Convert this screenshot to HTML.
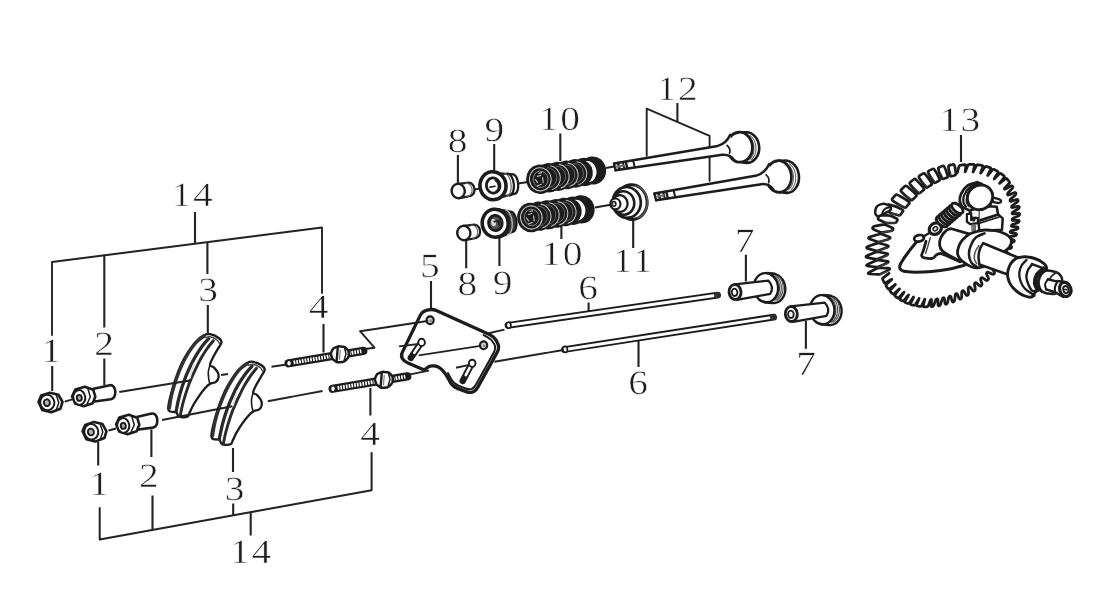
<!DOCTYPE html>
<html><head><meta charset="utf-8"><title>Valve train exploded view</title>
<style>
html,body{margin:0;padding:0;background:#fff;}
body{width:1093px;height:600px;overflow:hidden;font-family:"Liberation Serif",serif;}
svg{display:block;}
</style></head><body>
<svg width="1093" height="600" viewBox="0 0 1093 600">
<defs><filter id="soft" x="0" y="0" width="1093" height="600" filterUnits="userSpaceOnUse"><feGaussianBlur stdDeviation="0.38"/></filter></defs>
<rect width="1093" height="600" fill="#ffffff"/>
<g filter="url(#soft)">
<g font-family="'Liberation Serif', serif" fill="#1e1e1e" stroke="#ffffff" stroke-width="0.55" opacity="0.999" text-rendering="geometricPrecision">
<text transform="translate(193.0 206.4) scale(1.16 1)" font-size="34.0" text-anchor="middle" letter-spacing="1.5">14</text>
<line x1="195.0" y1="212.0" x2="195.0" y2="243.0" stroke="#222222" stroke-width="2.10" stroke-linecap="butt"/>
<path d="M52.0 335.0 L52.0 262.0 L322.0 227.5 L322.0 293.0" fill="none" stroke="#222222" stroke-width="1.90" stroke-linejoin="round" stroke-linecap="round" />
<line x1="104.3" y1="255.5" x2="104.3" y2="327.5" stroke="#222222" stroke-width="2.10" stroke-linecap="butt"/>
<line x1="207.4" y1="242.0" x2="207.4" y2="274.0" stroke="#222222" stroke-width="2.10" stroke-linecap="butt"/>
<line x1="207.8" y1="305.0" x2="207.8" y2="333.0" stroke="#222222" stroke-width="2.10" stroke-linecap="butt"/>
<text transform="translate(51.0 361.6) scale(1.16 1)" font-size="34.0" text-anchor="middle">1</text>
<line x1="52.2" y1="366.0" x2="52.2" y2="391.0" stroke="#222222" stroke-width="2.10" stroke-linecap="butt"/>
<text transform="translate(104.2 354.9) scale(1.16 1)" font-size="34.0" text-anchor="middle">2</text>
<line x1="104.3" y1="358.5" x2="104.3" y2="385.0" stroke="#222222" stroke-width="2.10" stroke-linecap="butt"/>
<text transform="translate(208.2 301.2) scale(1.16 1)" font-size="34.0" text-anchor="middle">3</text>
<text transform="translate(318.7 317.7) scale(1.16 1)" font-size="34.0" text-anchor="middle">4</text>
<line x1="323.5" y1="324.0" x2="323.5" y2="352.5" stroke="#222222" stroke-width="2.10" stroke-linecap="butt"/>
<text transform="translate(251.5 562.9) scale(1.16 1)" font-size="34.0" text-anchor="middle" letter-spacing="1.5">14</text>
<line x1="250.7" y1="512.5" x2="250.7" y2="535.5" stroke="#222222" stroke-width="2.10" stroke-linecap="butt"/>
<path d="M99.7 508.0 L99.7 539.6 L371.6 490.3 L371.6 453.0" fill="none" stroke="#222222" stroke-width="2.00" stroke-linejoin="round" stroke-linecap="round" />
<line x1="152.5" y1="495.5" x2="152.5" y2="530.5" stroke="#222222" stroke-width="2.10" stroke-linecap="butt"/>
<line x1="233.2" y1="503.5" x2="233.2" y2="515.5" stroke="#222222" stroke-width="2.10" stroke-linecap="butt"/>
<text transform="translate(99.2 495.1) scale(1.16 1)" font-size="34.0" text-anchor="middle">1</text>
<line x1="98.2" y1="442.0" x2="98.2" y2="465.5" stroke="#222222" stroke-width="2.10" stroke-linecap="butt"/>
<text transform="translate(148.8 486.9) scale(1.16 1)" font-size="34.0" text-anchor="middle">2</text>
<line x1="151.4" y1="429.5" x2="151.4" y2="457.0" stroke="#222222" stroke-width="2.10" stroke-linecap="butt"/>
<text transform="translate(234.6 500.0) scale(1.16 1)" font-size="34.0" text-anchor="middle">3</text>
<line x1="233.0" y1="448.0" x2="233.0" y2="472.0" stroke="#222222" stroke-width="2.10" stroke-linecap="butt"/>
<text transform="translate(370.2 444.8) scale(1.16 1)" font-size="34.0" text-anchor="middle">4</text>
<line x1="370.4" y1="388.0" x2="370.4" y2="415.5" stroke="#222222" stroke-width="2.10" stroke-linecap="butt"/>
<text transform="translate(429.8 277.2) scale(1.16 1)" font-size="34.0" text-anchor="middle">5</text>
<line x1="431.0" y1="281.0" x2="431.0" y2="308.0" stroke="#222222" stroke-width="2.10" stroke-linecap="butt"/>
<text transform="translate(588.0 298.9) scale(1.16 1)" font-size="34.0" text-anchor="middle">6</text>
<line x1="588.6" y1="302.5" x2="588.6" y2="311.0" stroke="#222222" stroke-width="2.10" stroke-linecap="butt"/>
<text transform="translate(638.0 394.4) scale(1.16 1)" font-size="34.0" text-anchor="middle">6</text>
<line x1="638.5" y1="341.0" x2="638.5" y2="367.0" stroke="#222222" stroke-width="2.10" stroke-linecap="butt"/>
<text transform="translate(744.7 252.3) scale(1.16 1)" font-size="34.0" text-anchor="middle">7</text>
<line x1="745.9" y1="254.8" x2="745.9" y2="281.5" stroke="#222222" stroke-width="2.10" stroke-linecap="butt"/>
<text transform="translate(806.1 375.1) scale(1.16 1)" font-size="34.0" text-anchor="middle">7</text>
<line x1="805.9" y1="321.0" x2="805.9" y2="348.8" stroke="#222222" stroke-width="2.10" stroke-linecap="butt"/>
<text transform="translate(457.6 152.4) scale(1.16 1)" font-size="34.0" text-anchor="middle">8</text>
<line x1="457.9" y1="155.0" x2="457.9" y2="184.0" stroke="#222222" stroke-width="2.10" stroke-linecap="butt"/>
<text transform="translate(467.4 294.8) scale(1.16 1)" font-size="34.0" text-anchor="middle">8</text>
<line x1="466.2" y1="240.0" x2="466.2" y2="268.3" stroke="#222222" stroke-width="2.10" stroke-linecap="butt"/>
<text transform="translate(494.3 141.0) scale(1.16 1)" font-size="34.0" text-anchor="middle">9</text>
<line x1="494.2" y1="144.0" x2="494.2" y2="172.0" stroke="#222222" stroke-width="2.10" stroke-linecap="butt"/>
<text transform="translate(502.7 293.5) scale(1.16 1)" font-size="34.0" text-anchor="middle">9</text>
<line x1="499.4" y1="237.5" x2="499.4" y2="266.0" stroke="#222222" stroke-width="2.10" stroke-linecap="butt"/>
<text transform="translate(560.3 130.2) scale(1.16 1)" font-size="34.0" text-anchor="middle" letter-spacing="1.5">10</text>
<line x1="560.3" y1="133.5" x2="560.3" y2="161.0" stroke="#222222" stroke-width="2.10" stroke-linecap="butt"/>
<text transform="translate(562.7 264.5) scale(1.16 1)" font-size="34.0" text-anchor="middle" letter-spacing="1.5">10</text>
<line x1="561.4" y1="225.5" x2="561.4" y2="239.0" stroke="#222222" stroke-width="2.10" stroke-linecap="butt"/>
<text transform="translate(633.4 272.1) scale(1.16 1)" font-size="34.0" text-anchor="middle" letter-spacing="1.5">11</text>
<line x1="633.2" y1="221.0" x2="633.2" y2="248.0" stroke="#222222" stroke-width="2.10" stroke-linecap="butt"/>
<text transform="translate(678.1 99.6) scale(1.16 1)" font-size="34.0" text-anchor="middle" letter-spacing="1.5">12</text>
<line x1="677.4" y1="103.0" x2="677.4" y2="121.5" stroke="#222222" stroke-width="2.10" stroke-linecap="butt"/>
<path d="M646.7 155.8 L646.7 108.7 L709.6 135.9 L709.6 180.7" fill="none" stroke="#222222" stroke-width="1.90" stroke-linejoin="round" stroke-linecap="round" />
<text transform="translate(960.6 131.2) scale(1.16 1)" font-size="34.0" text-anchor="middle" letter-spacing="1.5">13</text>
<line x1="961.0" y1="135.0" x2="961.0" y2="162.0" stroke="#222222" stroke-width="2.10" stroke-linecap="butt"/>
</g>
<line x1="64.7" y1="401.7" x2="72.4" y2="399.3" stroke="#222222" stroke-width="1.90" stroke-linecap="butt"/>
<line x1="221.0" y1="375.0" x2="228.0" y2="374.0" stroke="#222222" stroke-width="1.90" stroke-linecap="butt"/>
<line x1="271.5" y1="366.8" x2="285.0" y2="364.8" stroke="#222222" stroke-width="1.90" stroke-linecap="butt"/>
<line x1="108.5" y1="430.5" x2="116.0" y2="428.5" stroke="#222222" stroke-width="1.90" stroke-linecap="butt"/>
<line x1="267.8" y1="401.2" x2="322.5" y2="391.0" stroke="#222222" stroke-width="1.90" stroke-linecap="butt"/>
<line x1="488.4" y1="333.2" x2="504.5" y2="329.6" stroke="#222222" stroke-width="1.90" stroke-linecap="butt"/>
<line x1="494.4" y1="361.7" x2="562.0" y2="350.2" stroke="#222222" stroke-width="1.90" stroke-linecap="butt"/>
<line x1="472.0" y1="190.0" x2="488.0" y2="187.0" stroke="#222222" stroke-width="1.90" stroke-linecap="butt"/>
<line x1="518.0" y1="183.5" x2="528.0" y2="182.0" stroke="#222222" stroke-width="1.90" stroke-linecap="butt"/>
<line x1="606.0" y1="168.0" x2="614.0" y2="166.5" stroke="#222222" stroke-width="1.90" stroke-linecap="butt"/>
<line x1="595.0" y1="207.5" x2="612.0" y2="204.5" stroke="#222222" stroke-width="1.90" stroke-linecap="butt"/>
<path d="M38.5 402.0 L41.2 395.6 L50.0 392.7 L58.5 394.8 L62.5 402.0 L60.4 408.7 L51.3 412.3 L42.3 410.0 Z" fill="#fff" stroke="#1c1c1c" stroke-width="2.60" stroke-linejoin="round" stroke-linecap="round" />
<path d="M56.1 394.5 L58.8 402.8 L56.1 410.5" fill="none" stroke="#1c1c1c" stroke-width="1.50" stroke-linejoin="round" stroke-linecap="round" />
<ellipse cx="47.3" cy="402.5" rx="7.0" ry="7.8" fill="#fff" stroke="#1c1c1c" stroke-width="2.00" transform="rotate(-10.0 47.3 402.5)"/>
<ellipse cx="46.9" cy="402.7" rx="3.0" ry="3.4" fill="#b5b5b5" stroke="#1c1c1c" stroke-width="1.90" transform="rotate(-10.0 46.9 402.7)"/>
<path d="M82.5 431.3 L85.2 424.9 L94.0 422.0 L102.5 424.1 L106.5 431.3 L104.4 438.0 L95.3 441.6 L86.3 439.3 Z" fill="#fff" stroke="#1c1c1c" stroke-width="2.60" stroke-linejoin="round" stroke-linecap="round" />
<path d="M100.1 423.8 L102.8 432.1 L100.1 439.8" fill="none" stroke="#1c1c1c" stroke-width="1.50" stroke-linejoin="round" stroke-linecap="round" />
<ellipse cx="91.3" cy="431.8" rx="7.0" ry="7.8" fill="#fff" stroke="#1c1c1c" stroke-width="2.00" transform="rotate(-10.0 91.3 431.8)"/>
<ellipse cx="90.9" cy="432.0" rx="3.0" ry="3.4" fill="#b5b5b5" stroke="#1c1c1c" stroke-width="1.90" transform="rotate(-10.0 90.9 432.0)"/>
<path d="M92.7 388.9 L109.7 385.2 C113.3 384.8 115.3 388.1 115.3 392.1 C115.3 396.1 114.2 398.7 110.8 399.3 L92.7 401.7 Z" fill="#fff" stroke="#1c1c1c" stroke-width="2.60" stroke-linejoin="round" stroke-linecap="round" />
<path d="M72.1 396.4 L75.3 389.5 L84.9 386.8 L93.2 389.7 L95.3 396.7 L92.7 403.3 L83.6 406.3 L75.3 403.6 Z" fill="#fff" stroke="#1c1c1c" stroke-width="2.60" stroke-linejoin="round" stroke-linecap="round" />
<path d="M87.6 387.9 L90.3 396.7 L86.5 405.2" fill="none" stroke="#1c1c1c" stroke-width="1.50" stroke-linejoin="round" stroke-linecap="round" />
<ellipse cx="79.3" cy="397.5" rx="6.0" ry="7.4" fill="#fff" stroke="#1c1c1c" stroke-width="2.00" transform="rotate(-8.0 79.3 397.5)"/>
<ellipse cx="79.3" cy="397.9" rx="2.5" ry="3.0" fill="#a8a8a8" stroke="#1c1c1c" stroke-width="1.90" transform="rotate(-8.0 79.3 397.9)"/>
<path d="M136.7 416.9 L151.7 413.6 C155.3 413.2 157.3 416.4 157.3 420.4 C157.3 424.4 156.2 427.0 152.8 427.6 L136.7 429.7 Z" fill="#fff" stroke="#1c1c1c" stroke-width="2.60" stroke-linejoin="round" stroke-linecap="round" />
<path d="M116.1 424.4 L119.3 417.5 L128.9 414.8 L137.2 417.7 L139.3 424.7 L136.7 431.3 L127.6 434.3 L119.3 431.6 Z" fill="#fff" stroke="#1c1c1c" stroke-width="2.60" stroke-linejoin="round" stroke-linecap="round" />
<path d="M131.6 415.9 L134.3 424.7 L130.5 433.2" fill="none" stroke="#1c1c1c" stroke-width="1.50" stroke-linejoin="round" stroke-linecap="round" />
<ellipse cx="123.3" cy="425.5" rx="6.0" ry="7.4" fill="#fff" stroke="#1c1c1c" stroke-width="2.00" transform="rotate(-8.0 123.3 425.5)"/>
<ellipse cx="123.3" cy="425.9" rx="2.5" ry="3.0" fill="#a8a8a8" stroke="#1c1c1c" stroke-width="1.90" transform="rotate(-8.0 123.3 425.9)"/>
<path d="M203.7 335.3 C206.0 334.1 207.6 333.8 210.0 334.2 C212.4 334.6 216.4 336.3 218.3 337.7 C220.2 339.0 221.6 340.4 221.5 342.3 C221.4 344.2 219.1 346.6 217.7 349.2 C216.2 351.7 214.3 354.9 213.0 357.5 C211.7 360.1 209.9 363.4 210.0 365.0 C210.1 366.6 212.4 366.1 213.7 367.3 C214.9 368.6 216.9 370.6 217.7 372.3 C218.5 374.0 218.8 375.9 218.5 377.5 C218.2 379.1 217.4 380.8 216.0 381.8 C214.6 382.9 211.8 382.8 210.0 383.8 C208.2 384.9 206.8 386.3 205.0 388.3 C203.2 390.3 201.1 393.1 199.2 395.8 C197.2 398.6 195.0 402.1 193.3 405.0 C191.7 407.9 190.3 411.4 189.3 413.3 C188.4 415.2 188.9 415.8 187.7 416.5 C186.4 417.2 183.6 417.4 182.0 417.3 C180.4 417.2 179.3 416.9 178.3 416.0 C177.3 415.1 177.3 412.9 176.0 412.2 C174.7 411.4 171.6 412.1 170.3 411.5 C169.0 410.9 168.1 411.1 168.2 408.3 C168.2 405.6 169.4 400.0 170.7 395.0 C171.9 390.0 173.8 383.6 175.7 378.3 C177.5 373.1 179.6 367.8 181.7 363.3 C183.8 358.9 186.0 355.3 188.3 351.7 C190.7 348.1 193.3 344.4 195.8 341.7 C198.4 338.9 201.3 336.6 203.7 335.3 Z" fill="#fff" stroke="#1c1c1c" stroke-width="2.30" stroke-linejoin="round" stroke-linecap="round" />
<path d="M204.3 336.0 C203.0 337.0 199.0 339.5 196.5 342.2 C194.0 344.8 191.5 348.4 189.2 352.0 C186.9 355.6 184.8 359.2 182.7 363.7 C180.6 368.1 178.5 373.3 176.7 378.5 C174.9 383.7 173.0 390.0 171.8 395.0 C170.6 400.0 169.9 406.1 169.5 408.3" fill="none" stroke="#333" stroke-width="3.00" stroke-linejoin="round" stroke-linecap="round" />
<path d="M208.7 338.7 C207.6 339.9 204.6 343.0 202.5 345.8 C200.4 348.7 198.0 352.2 195.8 355.8 C193.7 359.4 191.6 363.3 189.7 367.5 C187.7 371.7 185.8 376.2 184.2 380.8 C182.5 385.4 180.9 390.4 179.7 395.0 C178.4 399.6 177.2 405.6 176.7 408.3 C176.1 411.1 176.2 411.1 176.2 411.7" fill="none" stroke="#2a2a2a" stroke-width="3.30" stroke-linejoin="round" stroke-linecap="round" />
<path d="M213.3 340.7 C212.3 341.9 209.4 345.4 207.3 348.3 C205.3 351.3 203.1 354.6 201.0 358.3 C198.9 362.1 196.8 366.7 194.8 370.8 C192.9 375.0 191.0 379.0 189.3 383.3 C187.7 387.6 186.1 392.4 184.8 396.7 C183.5 401.0 182.2 405.9 181.5 409.2 C180.8 412.4 180.5 414.9 180.3 416.0" fill="none" stroke="#2a2a2a" stroke-width="2.90" stroke-linejoin="round" stroke-linecap="round" />
<path d="M205.0 337.7 C205.8 337.5 208.1 336.3 210.0 336.7 C211.9 337.0 215.1 338.6 216.7 339.7 C218.2 340.8 218.9 342.7 219.3 343.3" fill="none" stroke="#444" stroke-width="1.40" stroke-linejoin="round" stroke-linecap="round" />
<path d="M210.0 365.0 C209.7 366.2 208.5 369.6 208.3 372.0 C208.1 374.4 208.6 377.4 208.8 379.3 C209.1 381.3 209.8 383.1 210.0 383.8" fill="none" stroke="#1c1c1c" stroke-width="1.60" stroke-linejoin="round" stroke-linecap="round" />
<path d="M193.8 363.7 C193.5 364.9 192.3 368.4 191.7 370.8 C191.0 373.2 190.3 376.8 190.0 378.0" fill="none" stroke="#ddd" stroke-width="1.50" stroke-linejoin="round" stroke-linecap="round" />
<path d="M246.9 362.9 C249.2 361.7 250.8 361.4 253.2 361.8 C255.6 362.2 259.6 363.9 261.5 365.3 C263.5 366.6 264.8 368.0 264.7 369.9 C264.6 371.9 262.3 374.2 260.9 376.8 C259.4 379.3 257.5 382.5 256.2 385.1 C254.9 387.7 253.1 391.0 253.2 392.6 C253.3 394.2 255.6 393.7 256.9 394.9 C258.1 396.2 260.1 398.2 260.9 399.9 C261.7 401.6 262.0 403.5 261.7 405.1 C261.4 406.7 260.6 408.4 259.2 409.4 C257.8 410.5 255.0 410.4 253.2 411.4 C251.4 412.5 250.0 413.9 248.2 415.9 C246.4 417.9 244.3 420.7 242.4 423.4 C240.4 426.2 238.2 429.7 236.5 432.6 C234.9 435.5 233.5 439.0 232.5 440.9 C231.6 442.9 232.1 443.4 230.9 444.1 C229.6 444.8 226.8 445.0 225.2 444.9 C223.6 444.9 222.5 444.5 221.5 443.6 C220.5 442.7 220.5 440.5 219.2 439.8 C217.9 439.0 214.8 439.7 213.5 439.1 C212.2 438.5 211.3 438.7 211.4 435.9 C211.4 433.2 212.6 427.6 213.9 422.6 C215.1 417.6 217.0 411.2 218.9 405.9 C220.7 400.7 222.8 395.4 224.9 390.9 C227.0 386.5 229.2 382.9 231.5 379.3 C233.9 375.7 236.5 372.0 239.0 369.3 C241.6 366.5 244.5 364.2 246.9 362.9 Z" fill="#fff" stroke="#1c1c1c" stroke-width="2.30" stroke-linejoin="round" stroke-linecap="round" />
<path d="M247.5 363.6 C246.2 364.6 242.2 367.1 239.7 369.8 C237.2 372.4 234.7 376.0 232.4 379.6 C230.1 383.2 228.0 386.9 225.9 391.3 C223.8 395.7 221.7 400.9 219.9 406.1 C218.1 411.3 216.2 417.6 215.0 422.6 C213.8 427.6 213.1 433.7 212.7 435.9" fill="none" stroke="#333" stroke-width="3.00" stroke-linejoin="round" stroke-linecap="round" />
<path d="M251.9 366.3 C250.8 367.5 247.8 370.6 245.7 373.4 C243.6 376.3 241.2 379.8 239.0 383.4 C236.9 387.0 234.8 390.9 232.9 395.1 C230.9 399.3 229.0 403.9 227.4 408.4 C225.7 413.0 224.1 418.0 222.9 422.6 C221.6 427.2 220.5 433.2 219.9 435.9 C219.3 438.7 219.5 438.7 219.4 439.3" fill="none" stroke="#2a2a2a" stroke-width="3.30" stroke-linejoin="round" stroke-linecap="round" />
<path d="M256.5 368.3 C255.5 369.5 252.6 373.0 250.5 375.9 C248.5 378.9 246.3 382.2 244.2 385.9 C242.1 389.7 240.0 394.3 238.0 398.4 C236.1 402.6 234.2 406.6 232.5 410.9 C230.9 415.2 229.3 420.0 228.0 424.3 C226.7 428.6 225.4 433.5 224.7 436.8 C223.9 440.0 223.7 442.5 223.5 443.6" fill="none" stroke="#2a2a2a" stroke-width="2.90" stroke-linejoin="round" stroke-linecap="round" />
<path d="M248.2 365.3 C249.0 365.1 251.3 363.9 253.2 364.3 C255.1 364.6 258.3 366.2 259.9 367.3 C261.4 368.4 262.1 370.3 262.5 370.9" fill="none" stroke="#444" stroke-width="1.40" stroke-linejoin="round" stroke-linecap="round" />
<path d="M253.2 392.6 C252.9 393.8 251.7 397.2 251.5 399.6 C251.3 402.0 251.8 405.0 252.0 406.9 C252.3 408.9 253.0 410.7 253.2 411.4" fill="none" stroke="#1c1c1c" stroke-width="1.60" stroke-linejoin="round" stroke-linecap="round" />
<path d="M237.0 391.3 C236.7 392.5 235.5 396.0 234.9 398.4 C234.2 400.8 233.5 404.4 233.2 405.6" fill="none" stroke="#ddd" stroke-width="1.50" stroke-linejoin="round" stroke-linecap="round" />
<line x1="288.6" y1="363.3" x2="363.3" y2="350.9" stroke="#1c1c1c" stroke-width="8.2" stroke-linecap="round"/>
<line x1="293.6" y1="362.5" x2="361.3" y2="351.2" stroke="#fff" stroke-width="3.8" stroke-dasharray="1.7 1.1"/>
<ellipse cx="289.0" cy="363.3" rx="1.7" ry="2.3" fill="#fff" stroke="none" stroke-width="0.00"/>
<path d="M331.2 352.4 L332.3 350.0 Q333.0 348.5 334.5 347.9 L336.9 346.9 Q338.4 346.2 340.0 346.4 L343.4 346.8 Q345.0 347.0 346.0 348.2 L347.9 350.3 Q348.9 351.5 348.8 353.1 L348.6 355.9 Q348.4 357.5 347.3 358.7 L345.5 360.5 Q344.4 361.7 342.8 361.9 L339.1 362.3 Q337.5 362.4 336.1 361.6 L334.1 360.3 Q332.7 359.4 332.1 358.0 L331.2 355.4 Q330.6 353.9 331.2 352.4 Z" fill="#fff" stroke="#1c1c1c" stroke-width="2.50" stroke-linejoin="round" stroke-linecap="round" />
<path d="M337.8 347.0 L336.6 361.7" fill="none" stroke="#1c1c1c" stroke-width="2.40" stroke-linejoin="round" stroke-linecap="round" />
<path d="M344.5 347.9 L346.0 353.9 L344.1 360.5" fill="none" stroke="#1c1c1c" stroke-width="1.50" stroke-linejoin="round" stroke-linecap="round" />
<path d="M340.2 350.0 L339.6 359.3" fill="none" stroke="#666" stroke-width="1.00" stroke-linejoin="round" stroke-linecap="round" />
<line x1="332.6" y1="388.8" x2="407.3" y2="376.4" stroke="#1c1c1c" stroke-width="8.2" stroke-linecap="round"/>
<line x1="337.6" y1="388.0" x2="405.3" y2="376.7" stroke="#fff" stroke-width="3.8" stroke-dasharray="1.7 1.1"/>
<ellipse cx="333.0" cy="388.8" rx="1.7" ry="2.3" fill="#fff" stroke="none" stroke-width="0.00"/>
<path d="M375.2 377.9 L376.3 375.5 Q377.0 374.0 378.5 373.4 L380.9 372.4 Q382.4 371.7 384.0 371.9 L387.4 372.3 Q389.0 372.5 390.0 373.7 L391.9 375.8 Q392.9 377.0 392.8 378.6 L392.6 381.4 Q392.4 383.0 391.3 384.2 L389.5 386.0 Q388.4 387.2 386.8 387.4 L383.1 387.8 Q381.5 387.9 380.1 387.1 L378.1 385.8 Q376.7 384.9 376.1 383.5 L375.2 380.9 Q374.6 379.4 375.2 377.9 Z" fill="#fff" stroke="#1c1c1c" stroke-width="2.50" stroke-linejoin="round" stroke-linecap="round" />
<path d="M381.8 372.5 L380.6 387.2" fill="none" stroke="#1c1c1c" stroke-width="2.40" stroke-linejoin="round" stroke-linecap="round" />
<path d="M388.5 373.4 L390.0 379.4 L388.1 386.0" fill="none" stroke="#1c1c1c" stroke-width="1.50" stroke-linejoin="round" stroke-linecap="round" />
<path d="M384.2 375.5 L383.6 384.8" fill="none" stroke="#666" stroke-width="1.00" stroke-linejoin="round" stroke-linecap="round" />
<path d="M427.1 310.2 L428.8 309.8 Q432.7 308.9 436.3 310.5 L488.9 334.3 Q494.4 336.7 497.1 342.1 L497.5 343.0 Q499.8 347.5 497.4 351.9 L478.1 386.6 Q475.7 391.0 472.7 392.0 L472.7 392.0 Q469.7 393.1 466.0 391.6 L457.0 388.1 Q452.3 386.3 450.0 381.8 L447.2 376.7 Q445.3 373.1 442.5 370.3 L441.3 369.1 Q437.7 365.5 433.3 365.8 L431.9 365.9 Q428.9 366.2 426.7 368.1 L425.6 369.0 Q424.4 370.0 423.1 369.4 L407.9 363.0 Q404.2 361.4 402.4 358.6 L402.4 358.6 Q400.7 355.7 402.4 352.1 L420.0 315.9 Q422.2 311.4 427.1 310.2 Z" fill="#fff" stroke="#1c1c1c" stroke-width="3.30" stroke-linejoin="round" stroke-linecap="round" />
<path d="M483.6 335.1 L487.8 337.4 Q491.9 339.6 494.1 343.7 L494.1 343.7 Q496.3 347.8 493.9 352.2 L476.6 383.6 Q474.1 388.0 471.8 389.0 L471.8 389.0 Q469.4 389.9 465.7 388.5 L458.5 385.7 Q453.9 383.9 451.4 379.5 L447.9 373.1" fill="none" stroke="#1c1c1c" stroke-width="2.00" stroke-linejoin="round" stroke-linecap="round" />
<ellipse cx="430.1" cy="320.3" rx="3.6" ry="3.9" fill="#d0d0d0" stroke="#1c1c1c" stroke-width="2.20"/>
<ellipse cx="430.7" cy="320.8" rx="1.3" ry="1.5" fill="#8a8a8a" stroke="none" stroke-width="0.00"/>
<ellipse cx="483.6" cy="345.3" rx="3.6" ry="3.9" fill="#d0d0d0" stroke="#1c1c1c" stroke-width="2.20"/>
<ellipse cx="484.2" cy="345.8" rx="1.3" ry="1.5" fill="#8a8a8a" stroke="none" stroke-width="0.00"/>
<line x1="421.3" y1="342.4" x2="410.8" y2="357.9" stroke="#1c1c1c" stroke-width="6.4" stroke-linecap="round"/>
<line x1="421.3" y1="342.4" x2="414.3" y2="352.8" stroke="#fff" stroke-width="2.6" stroke-linecap="round"/>
<ellipse cx="421.6" cy="342.4" rx="3.3" ry="3.6" fill="#fff" stroke="#1c1c1c" stroke-width="1.90"/>
<ellipse cx="411.3" cy="357.3" rx="2.8" ry="2.3" fill="#1c1c1c" stroke="none" stroke-width="0.00" transform="rotate(-30.0 411.3 357.3)"/>
<line x1="471.9" y1="363.3" x2="462.7" y2="381.0" stroke="#1c1c1c" stroke-width="6.4" stroke-linecap="round"/>
<line x1="471.9" y1="363.3" x2="465.8" y2="375.1" stroke="#fff" stroke-width="2.6" stroke-linecap="round"/>
<ellipse cx="472.2" cy="363.3" rx="3.3" ry="3.6" fill="#fff" stroke="#1c1c1c" stroke-width="1.90"/>
<ellipse cx="463.2" cy="380.4" rx="2.8" ry="2.3" fill="#1c1c1c" stroke="none" stroke-width="0.00" transform="rotate(-30.0 463.2 380.4)"/>
<path d="M458.7 183.8 L468.8 182.6 A6.4 7.0 -8 0 1 470.6 196.0 L459.7 198.2" fill="#fff" stroke="#1c1c1c" stroke-width="2.20" stroke-linejoin="round" stroke-linecap="round" />
<ellipse cx="458.2" cy="191.0" rx="6.6" ry="7.2" fill="#fff" stroke="#1c1c1c" stroke-width="2.40" transform="rotate(-8.0 458.2 191.0)"/>
<path d="M465.6 183.2 A5.5 6.4 -8 0 1 467.2 196.4" fill="none" stroke="#666" stroke-width="1.20" stroke-linejoin="round" stroke-linecap="round" />
<path d="M464.3 225.8 L474.4 224.6 A6.4 7.0 -8 0 1 476.2 238.0 L465.3 240.2" fill="#fff" stroke="#1c1c1c" stroke-width="2.20" stroke-linejoin="round" stroke-linecap="round" />
<ellipse cx="463.8" cy="233.0" rx="6.6" ry="7.2" fill="#fff" stroke="#1c1c1c" stroke-width="2.40" transform="rotate(-8.0 463.8 233.0)"/>
<path d="M471.2 225.2 A5.5 6.4 -8 0 1 472.8 238.4" fill="none" stroke="#666" stroke-width="1.20" stroke-linejoin="round" stroke-linecap="round" />
<path d="M495.0 173.1 L513.5 174.3 A5.2 10.2 -6 0 1 515.4 193.7 L497.0 198.2 Z" fill="#fff" stroke="#1c1c1c" stroke-width="2.30" stroke-linejoin="round" stroke-linecap="round" />
<path d="M507.5 173.7 A5.2 10.4 -6 0 1 509.4 195.3" fill="none" stroke="#1c1c1c" stroke-width="2.20" stroke-linejoin="round" stroke-linecap="round" />
<path d="M504.5 173.5 A5.2 10.4 -6 0 1 506.4 196.1" fill="none" stroke="#666" stroke-width="1.20" stroke-linejoin="round" stroke-linecap="round" />
<ellipse cx="493.0" cy="185.7" rx="13.0" ry="14.0" fill="#fff" stroke="#1c1c1c" stroke-width="3.60" transform="rotate(-8.0 493.0 185.7)"/>
<ellipse cx="493.2" cy="185.5" rx="6.8" ry="7.6" fill="#fff" stroke="#1c1c1c" stroke-width="2.80" transform="rotate(-8.0 493.2 185.5)"/>
<path d="M495.4 180.3 A4.5 6 -8 0 1 496.4 191.3" fill="none" stroke="#1c1c1c" stroke-width="2.00" stroke-linejoin="round" stroke-linecap="round" />
<path d="M490.0 187.1 l5 -0.8" fill="none" stroke="#1c1c1c" stroke-width="1.60" stroke-linejoin="round" stroke-linecap="round" />
<path d="M497.2 209.2 L510.7 211.6 A4.5 9.6 -6 0 1 512.8 231.8 L499.2 237.7 Z" fill="#3a3a3a" stroke="#1c1c1c" stroke-width="2.20" stroke-linejoin="round" stroke-linecap="round" />
<path d="M505.7 210.2 A5 11 -6 0 1 507.6 234.6" fill="none" stroke="#bbb" stroke-width="1.30" stroke-linejoin="round" stroke-linecap="round" />
<ellipse cx="495.2" cy="223.2" rx="13.0" ry="14.0" fill="#fff" stroke="#1c1c1c" stroke-width="3.60" transform="rotate(-8.0 495.2 223.2)"/>
<ellipse cx="495.4" cy="223.0" rx="6.8" ry="7.6" fill="#555" stroke="#1c1c1c" stroke-width="2.80" transform="rotate(-8.0 495.4 223.0)"/>
<ellipse cx="493.6" cy="222.6" rx="2.4" ry="3.6" fill="#ddd" stroke="none" stroke-width="0.00" transform="rotate(-8.0 493.6 222.6)"/>
<path d="M494.2 221.6 l4.6 -0.6 l0.4 4" fill="none" stroke="#1c1c1c" stroke-width="1.80" stroke-linejoin="round" stroke-linecap="round" />
<ellipse cx="593.0" cy="170.5" rx="13.1" ry="14.1" fill="#1c1c1c" stroke="none" stroke-width="0.00" transform="rotate(-8.0 593.0 170.5)"/>
<ellipse cx="584.2" cy="172.0" rx="13.2" ry="14.2" fill="#1c1c1c" stroke="none" stroke-width="0.00" transform="rotate(-8.0 584.2 172.0)"/>
<ellipse cx="575.3" cy="173.4" rx="13.3" ry="14.3" fill="#1c1c1c" stroke="none" stroke-width="0.00" transform="rotate(-8.0 575.3 173.4)"/>
<ellipse cx="566.5" cy="174.9" rx="13.5" ry="14.4" fill="#1c1c1c" stroke="none" stroke-width="0.00" transform="rotate(-8.0 566.5 174.9)"/>
<ellipse cx="557.7" cy="176.4" rx="13.6" ry="14.6" fill="#1c1c1c" stroke="none" stroke-width="0.00" transform="rotate(-8.0 557.7 176.4)"/>
<ellipse cx="548.8" cy="177.8" rx="13.7" ry="14.7" fill="#1c1c1c" stroke="none" stroke-width="0.00" transform="rotate(-8.0 548.8 177.8)"/>
<ellipse cx="540.0" cy="179.3" rx="13.8" ry="14.8" fill="#1c1c1c" stroke="none" stroke-width="0.00" transform="rotate(-8.0 540.0 179.3)"/>
<g clip-path="none">
<ellipse cx="587.6" cy="171.6" rx="9.0" ry="10.6" fill="#fff" stroke="none" stroke-width="0.00" transform="rotate(-8.0 587.6 171.6)"/>
<ellipse cx="582.6" cy="172.3" rx="10.2" ry="12.0" fill="#1c1c1c" stroke="none" stroke-width="0.00" transform="rotate(-8.0 582.6 172.3)"/>
</g>
<path d="M550.4 165.8 A11.1 12.1 -8 0 1 552.2 189.5" fill="none" stroke="#bcbcbc" stroke-width="1.10" stroke-linejoin="round" stroke-linecap="round" />
<path d="M547.4 167.6 A9.1 10.1 -8 0 1 549.0 187.7" fill="none" stroke="#777" stroke-width="0.80" stroke-linejoin="round" stroke-linecap="round" />
<path d="M559.3 164.4 A11.0 12.0 -8 0 1 561.1 187.9" fill="none" stroke="#bcbcbc" stroke-width="1.10" stroke-linejoin="round" stroke-linecap="round" />
<path d="M556.3 166.2 A9.0 10.0 -8 0 1 557.9 186.1" fill="none" stroke="#777" stroke-width="0.80" stroke-linejoin="round" stroke-linecap="round" />
<path d="M568.1 163.1 A10.9 11.8 -8 0 1 569.9 186.3" fill="none" stroke="#bcbcbc" stroke-width="1.10" stroke-linejoin="round" stroke-linecap="round" />
<path d="M565.1 164.9 A8.9 9.8 -8 0 1 566.7 184.5" fill="none" stroke="#777" stroke-width="0.80" stroke-linejoin="round" stroke-linecap="round" />
<path d="M576.9 161.7 A10.7 11.7 -8 0 1 578.7 184.7" fill="none" stroke="#bcbcbc" stroke-width="1.10" stroke-linejoin="round" stroke-linecap="round" />
<path d="M573.9 163.5 A8.7 9.7 -8 0 1 575.5 182.9" fill="none" stroke="#777" stroke-width="0.80" stroke-linejoin="round" stroke-linecap="round" />
<ellipse cx="540.3" cy="179.3" rx="10.8" ry="11.6" fill="none" stroke="#c4c4c4" stroke-width="1.10" transform="rotate(-8.0 540.3 179.3)"/>
<ellipse cx="540.6" cy="179.3" rx="7.4" ry="8.2" fill="none" stroke="#8d8d8d" stroke-width="0.90" transform="rotate(-8.0 540.6 179.3)"/>
<path d="M537.4 176.3 l3.4 -1 M542.6 177.7 l0.6 5.0 M541.4 184.3 l-3.8 1.4 M535.4 179.7 l2.2 3 M539.0 173.3 l2.6 -0.6" fill="none" stroke="#b9b9b9" stroke-width="1.20" stroke-linejoin="round" stroke-linecap="round" />
<ellipse cx="581.5" cy="209.3" rx="13.1" ry="14.1" fill="#1c1c1c" stroke="none" stroke-width="0.00" transform="rotate(-8.0 581.5 209.3)"/>
<ellipse cx="573.1" cy="210.7" rx="13.2" ry="14.2" fill="#1c1c1c" stroke="none" stroke-width="0.00" transform="rotate(-8.0 573.1 210.7)"/>
<ellipse cx="564.7" cy="212.0" rx="13.3" ry="14.3" fill="#1c1c1c" stroke="none" stroke-width="0.00" transform="rotate(-8.0 564.7 212.0)"/>
<ellipse cx="556.2" cy="213.4" rx="13.5" ry="14.4" fill="#1c1c1c" stroke="none" stroke-width="0.00" transform="rotate(-8.0 556.2 213.4)"/>
<ellipse cx="547.8" cy="214.8" rx="13.6" ry="14.6" fill="#1c1c1c" stroke="none" stroke-width="0.00" transform="rotate(-8.0 547.8 214.8)"/>
<ellipse cx="539.4" cy="216.1" rx="13.7" ry="14.7" fill="#1c1c1c" stroke="none" stroke-width="0.00" transform="rotate(-8.0 539.4 216.1)"/>
<ellipse cx="531.0" cy="217.5" rx="13.8" ry="14.8" fill="#1c1c1c" stroke="none" stroke-width="0.00" transform="rotate(-8.0 531.0 217.5)"/>
<g clip-path="none">
<ellipse cx="576.5" cy="210.3" rx="9.0" ry="10.6" fill="#fff" stroke="none" stroke-width="0.00" transform="rotate(-8.0 576.5 210.3)"/>
<ellipse cx="571.5" cy="211.0" rx="10.2" ry="12.0" fill="#1c1c1c" stroke="none" stroke-width="0.00" transform="rotate(-8.0 571.5 211.0)"/>
</g>
<path d="M541.0 204.1 A11.1 12.1 -8 0 1 542.8 227.8" fill="none" stroke="#bcbcbc" stroke-width="1.10" stroke-linejoin="round" stroke-linecap="round" />
<path d="M538.0 205.9 A9.1 10.1 -8 0 1 539.6 226.0" fill="none" stroke="#777" stroke-width="0.80" stroke-linejoin="round" stroke-linecap="round" />
<path d="M549.4 202.8 A11.0 12.0 -8 0 1 551.2 226.3" fill="none" stroke="#bcbcbc" stroke-width="1.10" stroke-linejoin="round" stroke-linecap="round" />
<path d="M546.4 204.6 A9.0 10.0 -8 0 1 548.0 224.5" fill="none" stroke="#777" stroke-width="0.80" stroke-linejoin="round" stroke-linecap="round" />
<path d="M557.9 201.6 A10.9 11.8 -8 0 1 559.6 224.8" fill="none" stroke="#bcbcbc" stroke-width="1.10" stroke-linejoin="round" stroke-linecap="round" />
<path d="M554.9 203.4 A8.9 9.8 -8 0 1 556.5 223.0" fill="none" stroke="#777" stroke-width="0.80" stroke-linejoin="round" stroke-linecap="round" />
<path d="M566.3 200.3 A10.7 11.7 -8 0 1 568.1 223.3" fill="none" stroke="#bcbcbc" stroke-width="1.10" stroke-linejoin="round" stroke-linecap="round" />
<path d="M563.3 202.1 A8.7 9.7 -8 0 1 564.9 221.5" fill="none" stroke="#777" stroke-width="0.80" stroke-linejoin="round" stroke-linecap="round" />
<ellipse cx="531.3" cy="217.5" rx="10.8" ry="11.6" fill="none" stroke="#c4c4c4" stroke-width="1.10" transform="rotate(-8.0 531.3 217.5)"/>
<ellipse cx="531.6" cy="217.5" rx="7.4" ry="8.2" fill="none" stroke="#8d8d8d" stroke-width="0.90" transform="rotate(-8.0 531.6 217.5)"/>
<path d="M528.4 214.5 l3.4 -1 M533.6 215.9 l0.6 5.0 M532.4 222.5 l-3.8 1.4 M526.4 217.9 l2.2 3 M530.0 211.5 l2.6 -0.6" fill="none" stroke="#b9b9b9" stroke-width="1.20" stroke-linejoin="round" stroke-linecap="round" />
<ellipse cx="631.9" cy="202.1" rx="15.2" ry="17.4" fill="#fff" stroke="#1c1c1c" stroke-width="3.00" transform="rotate(-6.0 631.9 202.1)"/>
<path d="M635.3 185.7 A14 16.5 -6 0 1 638.1 217.7" fill="none" stroke="#555" stroke-width="1.60" stroke-linejoin="round" stroke-linecap="round" />
<ellipse cx="626.8" cy="202.4" rx="14.0" ry="15.4" fill="#fff" stroke="#1c1c1c" stroke-width="2.70" transform="rotate(-6.0 626.8 202.4)"/>
<ellipse cx="623.5" cy="203.0" rx="10.8" ry="11.8" fill="#fff" stroke="#1c1c1c" stroke-width="2.50" transform="rotate(-6.0 623.5 203.0)"/>
<ellipse cx="619.8" cy="203.6" rx="7.8" ry="8.4" fill="#fff" stroke="#1c1c1c" stroke-width="2.30" transform="rotate(-6.0 619.8 203.6)"/>
<ellipse cx="615.4" cy="203.9" rx="5.0" ry="5.4" fill="#fff" stroke="#1c1c1c" stroke-width="2.20" transform="rotate(-6.0 615.4 203.9)"/>
<ellipse cx="613.9" cy="203.9" rx="2.0" ry="2.3" fill="#ccc" stroke="#1c1c1c" stroke-width="1.50"/>
<ellipse cx="746.6" cy="147.6" rx="12.6" ry="15.3" fill="#fff" stroke="#1c1c1c" stroke-width="2.60" transform="rotate(-4.0 746.6 147.6)"/>
<path d="M739.8 132.2 L746.6 132.2 M740.8 162.2 L747.6 162.4" fill="none" stroke="#1c1c1c" stroke-width="2.20" stroke-linejoin="round" stroke-linecap="round" />
<rect x="739.8" y="133.2" width="6.8" height="28.0" fill="#fff" transform="rotate(-4 739.8 147.2)"/>
<path d="M747.9 135.4 A12.6 15.0 -4 0 1 749.4 159.8" fill="none" stroke="#666" stroke-width="1.10" stroke-linejoin="round" stroke-linecap="round" />
<path d="M749.9 135.4 A12.6 15.0 -4 0 1 751.4 159.8" fill="none" stroke="#666" stroke-width="1.10" stroke-linejoin="round" stroke-linecap="round" />
<ellipse cx="739.8" cy="147.2" rx="12.6" ry="15.0" fill="#fff" stroke="#1c1c1c" stroke-width="2.80" transform="rotate(-4.0 739.8 147.2)"/>
<path d="M614.0 163.6 L717.8 145.9 Q726.1 143.8 730.2 134.8 L734.4 160.4 Q730.3 154.1 722.3 154.7 L615.6 170.3 Z" fill="#fff" stroke="none" stroke-width="0.00" stroke-linejoin="round" stroke-linecap="round" />
<path d="M614.0 163.6 L717.8 145.9 Q726.1 143.8 730.2 134.8" fill="none" stroke="#1c1c1c" stroke-width="2.50" stroke-linejoin="round" stroke-linecap="round" />
<path d="M615.6 170.3 L722.3 154.7 Q730.3 154.1 734.4 160.4" fill="none" stroke="#1c1c1c" stroke-width="2.50" stroke-linejoin="round" stroke-linecap="round" />
<path d="M727.1 145.5 Q731.1 148.9 729.5 153.4" fill="none" stroke="#1c1c1c" stroke-width="1.70" stroke-linejoin="round" stroke-linecap="round" />
<path d="M614.0 163.6 L615.6 170.3" fill="none" stroke="#1c1c1c" stroke-width="2.40" stroke-linejoin="round" stroke-linecap="round" />
<path d="M618.1 163.0 L619.6 169.6" fill="none" stroke="#1c1c1c" stroke-width="2.60" stroke-linejoin="round" stroke-linecap="round" />
<path d="M622.9 162.2 L624.3 168.9" fill="none" stroke="#1c1c1c" stroke-width="2.00" stroke-linejoin="round" stroke-linecap="round" />
<path d="M625.8 161.8 L627.3 168.4" fill="none" stroke="#1c1c1c" stroke-width="2.40" stroke-linejoin="round" stroke-linecap="round" />
<path d="M633.2 160.6 L634.7 167.3" fill="none" stroke="#1c1c1c" stroke-width="2.00" stroke-linejoin="round" stroke-linecap="round" />
<path d="M616.5 166.7 L622.9 165.7" fill="none" stroke="#777" stroke-width="2.20" stroke-linejoin="round" stroke-linecap="round" />
<ellipse cx="786.4" cy="176.9" rx="12.6" ry="16.1" fill="#fff" stroke="#1c1c1c" stroke-width="2.60" transform="rotate(-4.0 786.4 176.9)"/>
<path d="M778.8 160.7 L786.4 160.7 M779.8 192.3 L787.4 192.5" fill="none" stroke="#1c1c1c" stroke-width="2.20" stroke-linejoin="round" stroke-linecap="round" />
<rect x="778.8" y="161.7" width="7.6" height="29.6" fill="#fff" transform="rotate(-4 778.8 176.5)"/>
<path d="M787.2 163.9 A12.6 15.8 -4 0 1 788.7 189.9" fill="none" stroke="#666" stroke-width="1.10" stroke-linejoin="round" stroke-linecap="round" />
<path d="M789.5 163.9 A12.6 15.8 -4 0 1 791.0 189.9" fill="none" stroke="#666" stroke-width="1.10" stroke-linejoin="round" stroke-linecap="round" />
<ellipse cx="778.8" cy="176.5" rx="12.6" ry="15.8" fill="#fff" stroke="#1c1c1c" stroke-width="2.80" transform="rotate(-4.0 778.8 176.5)"/>
<path d="M654.4 193.6 L756.8 175.4 Q765.1 173.2 769.2 164.1 L773.4 189.7 Q769.3 183.4 761.3 184.2 L656.1 200.3 Z" fill="#fff" stroke="none" stroke-width="0.00" stroke-linejoin="round" stroke-linecap="round" />
<path d="M654.4 193.6 L756.8 175.4 Q765.1 173.2 769.2 164.1" fill="none" stroke="#1c1c1c" stroke-width="2.50" stroke-linejoin="round" stroke-linecap="round" />
<path d="M656.1 200.3 L761.3 184.2 Q769.3 183.4 773.4 189.7" fill="none" stroke="#1c1c1c" stroke-width="2.50" stroke-linejoin="round" stroke-linecap="round" />
<path d="M766.1 174.9 Q770.1 178.2 768.6 182.8" fill="none" stroke="#1c1c1c" stroke-width="1.70" stroke-linejoin="round" stroke-linecap="round" />
<path d="M654.4 193.6 L656.1 200.3" fill="none" stroke="#1c1c1c" stroke-width="2.40" stroke-linejoin="round" stroke-linecap="round" />
<path d="M658.6 193.0 L660.1 199.6" fill="none" stroke="#1c1c1c" stroke-width="2.60" stroke-linejoin="round" stroke-linecap="round" />
<path d="M663.3 192.2 L664.8 198.8" fill="none" stroke="#1c1c1c" stroke-width="2.00" stroke-linejoin="round" stroke-linecap="round" />
<path d="M666.3 191.7 L667.8 198.3" fill="none" stroke="#1c1c1c" stroke-width="2.40" stroke-linejoin="round" stroke-linecap="round" />
<path d="M673.7 190.5 L675.2 197.1" fill="none" stroke="#1c1c1c" stroke-width="2.00" stroke-linejoin="round" stroke-linecap="round" />
<path d="M657.0 196.7 L663.4 195.6" fill="none" stroke="#777" stroke-width="2.20" stroke-linejoin="round" stroke-linecap="round" />
<line x1="508.0" y1="325.3" x2="717.6" y2="295.1" stroke="#1c1c1c" stroke-width="6.8" stroke-linecap="round"/>
<line x1="508.5" y1="325.3" x2="713.1" y2="295.8" stroke="#fff" stroke-width="2.9" stroke-linecap="round"/>
<ellipse cx="717.0" cy="295.1" rx="2.6" ry="3.0" fill="#333" stroke="none" stroke-width="0.00"/>
<ellipse cx="508.6" cy="325.2" rx="2.3" ry="3.0" fill="#fff" stroke="#1c1c1c" stroke-width="1.70" transform="rotate(-8.0 508.6 325.2)"/>
<line x1="564.5" y1="349.5" x2="773.6" y2="317.2" stroke="#1c1c1c" stroke-width="6.8" stroke-linecap="round"/>
<line x1="565.0" y1="349.5" x2="769.1" y2="317.9" stroke="#fff" stroke-width="2.9" stroke-linecap="round"/>
<ellipse cx="773.0" cy="317.2" rx="2.6" ry="3.0" fill="#333" stroke="none" stroke-width="0.00"/>
<ellipse cx="565.1" cy="349.4" rx="2.3" ry="3.0" fill="#fff" stroke="#1c1c1c" stroke-width="1.70" transform="rotate(-8.0 565.1 349.4)"/>
<ellipse cx="773.1" cy="288.5" rx="12.2" ry="14.6" fill="#fff" stroke="#1c1c1c" stroke-width="2.40" transform="rotate(-6.0 773.1 288.5)"/>
<rect x="765.9" y="274.1" width="7.2" height="27.2" fill="#fff" transform="rotate(-6 765.9 287.7)"/>
<path d="M767.1 273.0 l7.4 0.6 M764.5 302.2 l7.2 0.9" fill="none" stroke="#1c1c1c" stroke-width="2.40" stroke-linejoin="round" stroke-linecap="round" />
<path d="M774.6 275.9 A12.2 14.6 -6 0 1 773.2 300.3" fill="none" stroke="#555" stroke-width="1.20" stroke-linejoin="round" stroke-linecap="round" />
<path d="M776.4 275.9 A12.2 14.6 -6 0 1 775.0 300.3" fill="none" stroke="#555" stroke-width="1.20" stroke-linejoin="round" stroke-linecap="round" />
<path d="M778.2 275.9 A12.2 14.6 -6 0 1 776.8 300.3" fill="none" stroke="#555" stroke-width="1.20" stroke-linejoin="round" stroke-linecap="round" />
<ellipse cx="765.9" cy="287.7" rx="12.2" ry="14.6" fill="#fff" stroke="#1c1c1c" stroke-width="2.40" transform="rotate(-6.0 765.9 287.7)"/>
<path d="M734.6 284.4 L768.3 280.6 Q774.4 286.9 770.3 293.8 L736.8 299.8 Z" fill="#fff" stroke="#1c1c1c" stroke-width="2.20" stroke-linejoin="round" stroke-linecap="round" />
<ellipse cx="735.0" cy="292.0" rx="6.0" ry="7.5" fill="#fff" stroke="#1c1c1c" stroke-width="2.80" transform="rotate(-6.0 735.0 292.0)"/>
<ellipse cx="734.6" cy="292.3" rx="2.8" ry="3.7" fill="#fff" stroke="#1c1c1c" stroke-width="1.80" transform="rotate(-6.0 734.6 292.3)"/>
<ellipse cx="829.4" cy="310.5" rx="12.2" ry="14.6" fill="#fff" stroke="#1c1c1c" stroke-width="2.40" transform="rotate(-6.0 829.4 310.5)"/>
<rect x="822.2" y="296.1" width="7.2" height="27.2" fill="#fff" transform="rotate(-6 822.2 309.7)"/>
<path d="M823.4 295.0 l7.4 0.6 M820.8 324.2 l7.2 0.9" fill="none" stroke="#1c1c1c" stroke-width="2.40" stroke-linejoin="round" stroke-linecap="round" />
<path d="M830.9 297.9 A12.2 14.6 -6 0 1 829.5 322.3" fill="none" stroke="#555" stroke-width="1.20" stroke-linejoin="round" stroke-linecap="round" />
<path d="M832.7 297.9 A12.2 14.6 -6 0 1 831.3 322.3" fill="none" stroke="#555" stroke-width="1.20" stroke-linejoin="round" stroke-linecap="round" />
<path d="M834.5 297.9 A12.2 14.6 -6 0 1 833.1 322.3" fill="none" stroke="#555" stroke-width="1.20" stroke-linejoin="round" stroke-linecap="round" />
<ellipse cx="822.2" cy="309.7" rx="12.2" ry="14.6" fill="#fff" stroke="#1c1c1c" stroke-width="2.40" transform="rotate(-6.0 822.2 309.7)"/>
<path d="M790.9 306.4 L824.6 302.6 Q830.7 308.9 826.6 315.8 L793.1 321.8 Z" fill="#fff" stroke="#1c1c1c" stroke-width="2.20" stroke-linejoin="round" stroke-linecap="round" />
<ellipse cx="791.3" cy="314.0" rx="6.0" ry="7.5" fill="#fff" stroke="#1c1c1c" stroke-width="2.80" transform="rotate(-6.0 791.3 314.0)"/>
<ellipse cx="790.9" cy="314.3" rx="2.8" ry="3.7" fill="#fff" stroke="#1c1c1c" stroke-width="1.80" transform="rotate(-6.0 790.9 314.3)"/>
<path d="M957.2 172.8 L958.8 166.8 Q959.2 165.3 960.7 165.1 L964.5 164.6 Q966.0 164.5 965.9 166.0 L965.3 170.4 Q965.1 171.9 965.2 171.9 L965.2 171.9 Q965.3 171.9 965.8 170.5 L967.6 165.7 Q968.2 164.3 969.7 164.4 L973.4 164.4 Q974.9 164.4 974.5 165.9 L973.4 170.5 Q973.0 172.0 973.1 172.0 L973.1 172.0 Q973.2 172.0 973.8 170.6 L976.3 165.9 Q976.9 164.6 978.4 164.8 L981.9 165.4 Q983.4 165.6 982.8 167.0 L981.1 171.8 Q980.6 173.2 980.6 173.2 L980.6 173.2 Q980.7 173.2 981.5 171.9 L984.5 167.4 Q985.3 166.1 986.8 166.6 L989.9 167.6 Q991.3 168.1 990.7 169.4 L988.3 174.2 Q987.6 175.5 987.7 175.5 L987.7 175.5 Q987.8 175.6 988.7 174.4 L992.2 170.1 Q993.1 168.9 994.5 169.6 L997.2 171.1 Q998.6 171.8 997.8 173.1 L994.8 177.7 Q994.0 178.9 994.1 179.0 L994.1 179.0 Q994.1 179.0 995.2 178.0 L999.1 174.0 Q1000.2 172.9 1001.3 173.8 L1003.7 175.7 Q1004.8 176.6 1003.9 177.8 L1000.5 182.2 Q999.5 183.4 999.6 183.4 L999.6 183.4 Q999.6 183.5 1000.8 182.5 L1005.0 178.9 Q1006.2 178.0 1007.2 179.1 L1009.1 181.3 Q1010.0 182.4 1009.0 183.5 L1005.1 187.6 Q1004.1 188.6 1004.4 189.0 L1004.4 189.0 Q1004.6 189.4 1005.9 188.7 L1010.7 186.1 Q1012.1 185.4 1012.6 186.4 L1012.6 186.4 Q1013.2 187.4 1012.2 188.5 L1008.2 192.7 Q1007.2 193.8 1007.6 194.5 L1007.6 194.5 Q1008.0 195.3 1009.3 194.7 L1014.2 192.7 Q1015.5 192.1 1015.9 193.1 L1015.9 193.1 Q1016.3 194.2 1015.2 195.2 L1010.9 198.9 Q1009.8 199.9 1010.0 200.7 L1010.0 200.7 Q1010.3 201.5 1011.7 201.1 L1016.4 199.5 Q1017.9 199.1 1018.1 200.1 L1018.1 200.1 Q1018.4 201.2 1017.1 202.1 L1012.6 205.3 Q1011.4 206.2 1011.5 207.0 L1011.5 207.0 Q1011.6 207.8 1013.1 207.5 L1017.7 206.4 Q1019.2 206.1 1019.3 207.2 L1019.3 207.2 Q1019.4 208.2 1018.1 209.0 L1013.4 211.7 Q1012.1 212.5 1012.1 213.3 L1012.1 213.3 Q1012.2 214.1 1013.7 213.9 L1018.1 213.3 Q1019.6 213.1 1019.6 214.2 L1019.6 214.2 Q1019.6 215.2 1018.3 215.9 L1013.5 218.1 Q1012.1 218.8 1012.1 219.6 L1012.1 219.6 Q1012.0 220.4 1013.5 220.3 L1017.8 220.2 Q1019.3 220.1 1019.2 221.1 L1019.2 221.1 Q1019.1 222.2 1017.7 222.7 L1012.9 224.4 Q1011.5 225.0 1011.4 225.7 L1011.4 225.7 Q1011.3 226.5 1012.8 226.6 L1016.8 226.9 Q1018.3 227.0 1018.1 228.0 L1018.1 228.0 Q1017.9 229.0 1016.5 229.4 L1011.8 230.6 Q1010.4 231.0 1010.2 231.8 L1010.2 231.8 Q1010.0 232.6 1011.5 232.8 L1015.3 233.4 Q1016.7 233.7 1016.5 234.6 L1016.5 234.6 Q1016.2 235.6 1014.7 235.9 L1010.2 236.7 Q1008.7 236.9 1008.5 237.7 L1008.5 237.7 Q1008.2 238.4 1009.6 238.8 L1013.2 239.8 Q1014.6 240.2 1014.3 241.2 L1014.3 241.2 Q1013.9 242.1 1012.4 242.3 L1008.1 242.6 Q1006.6 242.7 1006.2 243.5 L1006.2 243.5 Q1005.9 244.2 1007.3 244.8 L1010.6 246.1 Q1012.0 246.7 1011.5 247.7 L1011.5 247.7 Q1011.0 248.7 1009.5 248.6 L1005.4 248.6 Q1003.9 248.6 1003.5 249.3 L1003.5 249.3 Q1003.1 250.1 1004.4 250.8 L1007.4 252.5 Q1008.7 253.2 1008.1 254.2 L1008.1 254.2 Q1007.6 255.2 1006.1 255.0 L1002.2 254.6 Q1000.7 254.4 1000.2 255.2 L1000.2 255.2 Q999.8 255.9 1001.0 256.9 L1003.6 258.9 Q1004.8 259.8 1004.1 260.8 L1004.1 260.8 Q1003.5 261.7 1002.0 261.4 L998.4 260.6 Q996.9 260.3 996.4 261.0 L996.4 261.0 Q995.8 261.8 996.9 262.9 L999.2 265.2 Q1000.2 266.3 999.5 267.3 L999.5 267.3 Q998.7 268.2 997.3 267.8 L993.9 266.6 Q992.5 266.1 991.9 266.8 L991.9 266.8 Q991.3 267.6 992.1 268.8 L994.1 271.5 Q995.0 272.7 994.1 273.7 L994.1 273.7 Q993.3 274.6 991.9 274.0 L988.8 272.4 Q987.5 271.8 986.8 272.5 L986.8 272.5 Q986.0 273.2 986.7 274.6 L988.3 277.7 Q989.0 279.0 988.0 279.9 L988.0 279.9 Q987.1 280.9 985.8 280.0 L983.0 278.1 Q981.8 277.3 981.0 278.0 L981.0 278.0 Q980.2 278.6 980.7 280.1 L981.9 283.5 Q982.4 284.9 981.4 285.7 L981.4 285.7 Q980.4 286.5 979.3 285.5 L976.9 283.2 Q975.8 282.2 975.0 282.8 L975.0 282.8 Q974.2 283.4 974.5 284.9 L975.3 288.6 Q975.7 290.1 974.6 290.8 L974.6 290.8 Q973.6 291.5 972.7 290.3 L970.6 287.7 Q969.6 286.5 968.8 287.0 L968.8 287.0 Q968.0 287.6 968.2 289.1 L968.6 293.1 Q968.7 294.6 967.7 295.2 L967.7 295.2 Q966.6 295.8 965.9 294.5 L964.1 291.5 Q963.4 290.2 962.5 290.7 L962.5 290.7 Q961.7 291.1 961.7 292.6 L961.7 296.9 Q961.7 298.4 960.6 298.9 L960.6 298.9 Q959.5 299.4 958.9 298.0 L957.6 294.7 Q957.0 293.3 956.2 293.7 L956.2 293.7 Q955.3 294.0 955.2 295.5 L954.7 300.0 Q954.5 301.5 953.4 301.9 L953.4 301.9 Q952.4 302.3 952.0 300.9 L951.0 297.2 Q950.6 295.8 949.8 296.1 L949.8 296.1 Q948.9 296.3 948.6 297.8 L947.6 302.5 Q947.3 303.9 946.3 304.2 L946.3 304.2 Q945.2 304.5 945.0 303.0 L944.4 299.1 Q944.2 297.6 943.3 297.8 L943.3 297.8 Q942.5 298.0 942.1 299.4 L940.6 304.2 Q940.2 305.6 939.1 305.8 L939.1 305.8 Q938.1 306.0 938.0 304.5 L937.9 300.3 Q937.8 298.8 937.0 298.9 L937.0 298.9 Q936.2 299.0 935.6 300.4 L933.7 305.2 Q933.2 306.6 932.1 306.7 L932.1 306.7 Q931.1 306.8 931.2 305.3 L931.5 300.9 Q931.6 299.4 931.2 299.4 L931.2 299.4 Q930.8 299.4 930.2 300.8 L928.4 305.5 Q927.9 306.9 926.4 306.9 L924.3 306.8 Q922.8 306.8 923.2 305.3 L924.5 300.7 Q924.9 299.2 924.8 299.2 L924.8 299.2 Q924.8 299.2 924.1 300.6 L921.8 305.3 Q921.2 306.6 919.7 306.4 L917.8 306.1 Q916.3 305.9 916.8 304.5 L918.6 299.8 Q919.1 298.4 919.1 298.4 L919.1 298.4 Q919.0 298.4 918.3 299.7 L915.6 304.3 Q914.8 305.6 913.4 305.2 L911.6 304.8 Q910.2 304.4 910.8 303.0 L913.1 298.3 Q913.7 297.0 913.6 296.9 L913.6 296.9 Q913.6 296.9 912.7 298.2 L909.6 302.7 Q908.8 303.9 907.4 303.3 L905.9 302.7 Q904.5 302.1 905.2 300.8 L907.9 296.2 Q908.6 294.9 908.6 294.9 L908.6 294.9 Q908.5 294.9 907.6 296.0 L904.1 300.3 Q903.2 301.5 901.9 300.8 L900.6 300.0 Q899.3 299.3 900.1 298.0 L903.2 293.5 Q904.0 292.3 904.0 292.2 L904.0 292.2 Q903.9 292.2 902.9 293.3 L899.1 297.4 Q898.1 298.5 896.9 297.5 L895.5 296.5 Q894.3 295.5 895.2 294.4 L898.6 290.0 Q899.6 288.8 899.5 288.8 L899.5 288.8 Q899.5 288.8 898.4 289.8 L894.2 293.5 Q893.1 294.5 892.1 293.4 L890.7 291.9 Q889.6 290.8 890.6 289.7 L894.4 285.6 Q895.4 284.5 895.4 284.5 L895.4 284.5 Q895.4 284.4 894.2 285.3 L889.8 288.7 Q888.6 289.6 887.7 288.3 L886.4 286.4 Q885.5 285.1 886.6 284.1 L890.7 280.4 Q891.8 279.3 891.8 279.3 L891.8 279.3 Q891.8 279.2 890.5 280.0 L885.9 282.8 Q884.7 283.6 884.0 282.3 L882.9 279.8 Q882.2 278.5 883.4 277.6 L889.0 273.3" fill="none" stroke="#1c1c1c" stroke-width="2.80" stroke-linejoin="round" stroke-linecap="round" />
<path d="M868.1 273.4 L868.1 273.4 Q868.0 272.9 869.4 272.2 L876.6 268.5 Q878.0 267.8 879.6 267.9 L888.1 268.1 Q889.7 268.2 889.9 268.7 L889.9 268.7 Q890.0 269.3 888.6 270.0 L881.4 273.6 Q880.0 274.4 878.4 274.3 L869.9 274.0 Q868.3 273.9 868.1 273.4 Z" fill="#fff" stroke="#1c1c1c" stroke-width="2.70" stroke-linejoin="round" stroke-linecap="round" />
<path d="M879.6 274.9 L889.6 270.1" fill="none" stroke="#444" stroke-width="1.20" stroke-linejoin="round" stroke-linecap="round" />
<path d="M866.4 265.4 L866.4 265.4 Q866.3 264.8 867.8 264.2 L875.5 260.7 Q876.9 260.0 878.5 260.2 L886.7 261.1 Q888.3 261.2 888.4 261.8 L888.4 261.8 Q888.5 262.4 887.0 263.1 L879.3 266.5 Q877.9 267.2 876.3 267.0 L868.1 266.2 Q866.5 266.0 866.4 265.4 Z" fill="#fff" stroke="#1c1c1c" stroke-width="2.70" stroke-linejoin="round" stroke-linecap="round" />
<path d="M877.6 267.6 L887.9 263.2" fill="none" stroke="#444" stroke-width="1.20" stroke-linejoin="round" stroke-linecap="round" />
<path d="M865.9 256.7 L865.9 256.7 Q865.9 256.1 867.4 255.5 L875.4 252.3 Q876.9 251.7 878.5 252.0 L886.3 253.4 Q887.9 253.7 887.9 254.3 L887.9 254.3 Q887.9 254.9 886.4 255.5 L878.4 258.8 Q876.9 259.4 875.3 259.1 L867.4 257.7 Q865.9 257.4 865.9 256.7 Z" fill="#fff" stroke="#1c1c1c" stroke-width="2.70" stroke-linejoin="round" stroke-linecap="round" />
<path d="M876.6 259.7 L887.3 255.6" fill="none" stroke="#444" stroke-width="1.20" stroke-linejoin="round" stroke-linecap="round" />
<path d="M866.5 247.5 L866.5 247.5 Q866.6 246.9 868.2 246.3 L876.6 243.4 Q878.1 242.9 879.6 243.3 L887.0 245.3 Q888.6 245.7 888.5 246.4 L888.5 246.4 Q888.4 247.0 886.9 247.5 L878.5 250.5 Q877.0 251.0 875.4 250.6 L868.0 248.6 Q866.5 248.2 866.5 247.5 Z" fill="#fff" stroke="#1c1c1c" stroke-width="2.70" stroke-linejoin="round" stroke-linecap="round" />
<path d="M876.8 251.2 L887.7 247.6" fill="none" stroke="#444" stroke-width="1.20" stroke-linejoin="round" stroke-linecap="round" />
<path d="M868.5 237.9 L868.5 237.9 Q868.7 237.2 870.2 236.8 L879.0 234.2 Q880.5 233.7 882.0 234.3 L888.9 236.8 Q890.4 237.3 890.2 238.0 L890.2 238.0 Q890.0 238.7 888.5 239.2 L879.8 241.7 Q878.2 242.2 876.7 241.6 L869.8 239.1 Q868.3 238.6 868.5 237.9 Z" fill="#fff" stroke="#1c1c1c" stroke-width="2.70" stroke-linejoin="round" stroke-linecap="round" />
<path d="M878.1 242.2 L889.3 239.2" fill="none" stroke="#444" stroke-width="1.20" stroke-linejoin="round" stroke-linecap="round" />
<path d="M872.7 227.5 L872.7 227.5 Q873.2 226.3 874.7 226.1 L882.9 224.7 Q884.5 224.4 886.0 225.1 L892.1 227.7 Q893.5 228.3 893.0 229.5 L893.0 229.5 Q892.6 230.7 891.0 231.0 L882.8 232.4 Q881.2 232.6 879.8 232.0 L873.7 229.4 Q872.2 228.8 872.7 227.5 Z" fill="#fff" stroke="#1c1c1c" stroke-width="2.70" stroke-linejoin="round" stroke-linecap="round" />
<path d="M881.3 232.6 L891.9 230.9" fill="none" stroke="#444" stroke-width="1.20" stroke-linejoin="round" stroke-linecap="round" />
<path d="M878.2 217.6 L878.8 216.5 Q879.6 215.1 881.2 215.1 L888.1 215.3 Q889.7 215.3 891.2 216.0 L896.5 218.5 Q898.0 219.1 897.2 220.6 L896.7 221.6 Q895.9 223.1 894.3 223.0 L887.3 222.9 Q885.7 222.8 884.3 222.2 L878.9 219.7 Q877.5 219.0 878.2 217.6 Z" fill="#fff" stroke="#1c1c1c" stroke-width="2.70" stroke-linejoin="round" stroke-linecap="round" />
<path d="M885.9 222.9 L895.5 222.8" fill="none" stroke="#444" stroke-width="1.20" stroke-linejoin="round" stroke-linecap="round" />
<path d="M884.7 208.2 L886.5 205.5 Q887.4 204.2 888.9 204.6 L894.5 206.1 Q896.0 206.5 897.4 207.2 L902.2 209.6 Q903.7 210.3 902.8 211.6 L900.9 214.3 Q900.0 215.7 898.5 215.2 L893.0 213.7 Q891.4 213.3 890.0 212.6 L885.2 210.2 Q883.8 209.5 884.7 208.2 Z" fill="#fff" stroke="#1c1c1c" stroke-width="2.70" stroke-linejoin="round" stroke-linecap="round" />
<path d="M891.7 213.4 L899.9 215.0" fill="none" stroke="#444" stroke-width="1.20" stroke-linejoin="round" stroke-linecap="round" />
<path d="M892.4 198.7 L895.2 195.4 Q896.2 194.2 897.6 194.9 L902.0 197.3 Q903.4 198.0 904.7 198.9 L908.7 201.5 Q910.1 202.4 909.1 203.6 L906.3 206.9 Q905.3 208.1 903.9 207.4 L899.5 205.0 Q898.1 204.3 896.8 203.4 L892.8 200.8 Q891.4 199.9 892.4 198.7 Z" fill="#fff" stroke="#1c1c1c" stroke-width="2.70" stroke-linejoin="round" stroke-linecap="round" />
<path d="M898.5 204.2 L905.5 207.2" fill="none" stroke="#444" stroke-width="1.20" stroke-linejoin="round" stroke-linecap="round" />
<path d="M901.4 189.5 L904.6 186.4 Q905.7 185.3 907.0 186.3 L910.4 189.1 Q911.7 190.1 912.8 191.2 L916.0 194.2 Q917.2 195.3 916.0 196.4 L912.8 199.5 Q911.7 200.7 910.4 199.7 L907.0 196.9 Q905.7 195.9 904.5 194.8 L901.4 191.8 Q900.2 190.6 901.4 189.5 Z" fill="#fff" stroke="#1c1c1c" stroke-width="2.70" stroke-linejoin="round" stroke-linecap="round" />
<path d="M906.3 195.7 L912.1 199.5" fill="none" stroke="#444" stroke-width="1.20" stroke-linejoin="round" stroke-linecap="round" />
<path d="M910.4 182.0 L913.6 179.5 Q914.8 178.5 916.0 179.6 L918.9 182.6 Q920.0 183.7 921.0 184.9 L923.7 188.0 Q924.7 189.3 923.4 190.3 L920.2 192.8 Q918.9 193.8 917.8 192.7 L914.9 189.7 Q913.8 188.6 912.7 187.4 L910.1 184.3 Q909.1 183.0 910.4 182.0 Z" fill="#fff" stroke="#1c1c1c" stroke-width="2.70" stroke-linejoin="round" stroke-linecap="round" />
<path d="M914.5 188.4 L919.5 192.6" fill="none" stroke="#444" stroke-width="1.20" stroke-linejoin="round" stroke-linecap="round" />
<path d="M919.7 175.7 L922.8 173.7 Q924.2 172.9 925.2 174.1 L927.6 177.1 Q928.6 178.4 929.4 179.7 L931.5 182.9 Q932.4 184.2 931.0 185.1 L927.8 187.1 Q926.5 188.0 925.5 186.7 L923.1 183.7 Q922.1 182.5 921.3 181.1 L919.2 177.9 Q918.3 176.6 919.7 175.7 Z" fill="#fff" stroke="#1c1c1c" stroke-width="2.70" stroke-linejoin="round" stroke-linecap="round" />
<path d="M923.0 182.2 L927.2 186.7" fill="none" stroke="#444" stroke-width="1.20" stroke-linejoin="round" stroke-linecap="round" />
<path d="M929.1 170.6 L932.2 169.1 Q933.7 168.3 934.5 169.7 L936.4 172.8 Q937.2 174.1 937.9 175.6 L939.5 178.8 Q940.2 180.2 938.8 180.9 L935.7 182.5 Q934.2 183.2 933.4 181.8 L931.5 178.8 Q930.7 177.4 930.0 176.0 L928.4 172.8 Q927.7 171.3 929.1 170.6 Z" fill="#fff" stroke="#1c1c1c" stroke-width="2.70" stroke-linejoin="round" stroke-linecap="round" />
<path d="M931.6 177.1 L935.1 181.8" fill="none" stroke="#444" stroke-width="1.20" stroke-linejoin="round" stroke-linecap="round" />
<path d="M939.4 167.2 L942.4 166.1 Q943.9 165.5 944.5 167.0 L945.7 169.8 Q946.3 171.2 946.7 172.8 L947.6 175.6 Q948.1 177.2 946.6 177.7 L943.6 178.8 Q942.1 179.4 941.5 177.9 L940.3 175.2 Q939.7 173.7 939.2 172.2 L938.4 169.3 Q937.9 167.8 939.4 167.2 Z" fill="#fff" stroke="#1c1c1c" stroke-width="2.70" stroke-linejoin="round" stroke-linecap="round" />
<path d="M940.8 173.4 L943.2 178.1" fill="none" stroke="#444" stroke-width="1.20" stroke-linejoin="round" stroke-linecap="round" />
<path d="M949.9 165.1 L952.8 164.4 Q954.3 164.0 954.6 165.6 L955.1 167.9 Q955.4 169.5 955.6 171.1 L955.8 173.5 Q956.0 175.1 954.4 175.5 L951.5 176.2 Q950.0 176.6 949.6 175.0 L949.2 172.7 Q948.9 171.1 948.7 169.5 L948.5 167.1 Q948.3 165.5 949.9 165.1 Z" fill="#fff" stroke="#1c1c1c" stroke-width="2.70" stroke-linejoin="round" stroke-linecap="round" />
<path d="M950.2 170.9 L951.3 175.3" fill="none" stroke="#444" stroke-width="1.20" stroke-linejoin="round" stroke-linecap="round" />
<path d="M879.9 204.6 L881.5 204.1 Q883.9 203.4 886.2 204.4 L888.3 205.2 Q890.6 206.2 890.9 208.1 L890.9 208.1 Q891.3 209.9 889.0 211.1 L886.1 212.5 Q883.9 213.7 881.7 214.8 L879.7 215.8 Q877.5 216.9 876.2 215.3 L876.2 215.3 Q874.9 213.7 875.2 211.2 L875.2 211.2 Q875.4 208.8 876.5 207.0 L876.5 207.0 Q877.5 205.3 879.9 204.6 Z" fill="#fff" stroke="#1c1c1c" stroke-width="2.50" stroke-linejoin="round" stroke-linecap="round" />
<path d="M890.6 206.7 C889.7 207.0 886.4 207.8 885.1 208.8 C883.7 209.7 882.8 211.5 882.4 212.5 C882.0 213.5 882.8 214.3 882.9 214.6" fill="none" stroke="#1c1c1c" stroke-width="2.00" stroke-linejoin="round" stroke-linecap="round" />
<path d="M918.0 240.3 C916.4 242.2 911.5 247.9 908.7 251.7 C905.8 255.4 902.5 260.3 901.0 263.0 C899.5 265.7 899.2 266.6 899.7 268.0 C900.2 269.4 901.4 270.6 904.0 271.3 C906.6 272.0 910.4 272.1 915.0 272.2 C919.6 272.2 926.1 272.0 931.7 271.5 C937.2 271.0 943.3 270.2 948.3 269.3 C953.3 268.4 958.2 267.0 961.7 266.0 C965.2 265.0 968.1 263.8 969.3 263.3" fill="none" stroke="#1c1c1c" stroke-width="3.00" stroke-linejoin="round" stroke-linecap="round" />
<path d="M926.0 241.3 C925.6 242.8 924.2 247.6 923.5 250.0 C922.8 252.4 921.3 254.5 921.7 255.8 C922.0 257.2 923.8 257.8 925.7 258.2 C927.6 258.6 931.3 258.7 933.0 258.2 C934.7 257.7 934.8 255.9 936.0 255.2 C937.2 254.4 938.7 253.5 940.3 253.5 C941.9 253.5 942.4 254.0 945.7 255.3 C948.9 256.7 957.6 260.6 960.0 261.7" fill="none" stroke="#1c1c1c" stroke-width="2.80" stroke-linejoin="round" stroke-linecap="round" />
<path d="M930.3 237.7 C929.9 239.2 928.4 244.1 927.7 246.7 C926.9 249.3 926.0 252.2 925.7 253.3" fill="none" stroke="#444" stroke-width="1.40" stroke-linejoin="round" stroke-linecap="round" />
<ellipse cx="919.1" cy="238.3" rx="5.0" ry="3.2" fill="#fff" stroke="#1c1c1c" stroke-width="2.70" transform="rotate(-12.0 919.1 238.3)"/>
<path d="M923.0 236.7 L931.0 232.0" fill="none" stroke="#1c1c1c" stroke-width="2.40" stroke-linejoin="round" stroke-linecap="round" />
<ellipse cx="935.3" cy="228.7" rx="6.4" ry="5.4" fill="#fff" stroke="#1c1c1c" stroke-width="3.20" transform="rotate(-35.0 935.3 228.7)"/>
<ellipse cx="935.3" cy="228.7" rx="2.4" ry="2.0" fill="#ddd" stroke="#1c1c1c" stroke-width="1.40" transform="rotate(-35.0 935.3 228.7)"/>
<ellipse cx="942.0" cy="221.7" rx="3.6" ry="6.8" fill="#fff" stroke="#1c1c1c" stroke-width="2.90" transform="rotate(-50.0 942.0 221.7)"/>
<ellipse cx="944.6" cy="219.4" rx="3.6" ry="6.8" fill="#fff" stroke="#1c1c1c" stroke-width="2.90" transform="rotate(-50.0 944.6 219.4)"/>
<ellipse cx="947.1" cy="217.2" rx="3.6" ry="6.8" fill="#fff" stroke="#1c1c1c" stroke-width="2.90" transform="rotate(-50.0 947.1 217.2)"/>
<ellipse cx="949.7" cy="215.0" rx="3.6" ry="6.8" fill="#fff" stroke="#1c1c1c" stroke-width="2.90" transform="rotate(-50.0 949.7 215.0)"/>
<ellipse cx="952.2" cy="212.8" rx="3.6" ry="6.8" fill="#fff" stroke="#1c1c1c" stroke-width="2.90" transform="rotate(-50.0 952.2 212.8)"/>
<ellipse cx="954.8" cy="210.6" rx="3.6" ry="6.8" fill="#fff" stroke="#1c1c1c" stroke-width="2.90" transform="rotate(-50.0 954.8 210.6)"/>
<ellipse cx="957.3" cy="208.3" rx="3.6" ry="6.8" fill="#fff" stroke="#1c1c1c" stroke-width="2.90" transform="rotate(-50.0 957.3 208.3)"/>
<path d="M959.7 206.3 L963.3 201.3" fill="none" stroke="#1c1c1c" stroke-width="2.00" stroke-linejoin="round" stroke-linecap="round" />
<path d="M977.1 182.2 C975.5 182.8 970.1 183.8 967.5 185.7 C964.9 187.6 962.5 191.1 961.2 193.7 C959.9 196.3 959.5 199.0 959.8 201.3 C960.1 203.5 961.4 205.6 962.8 207.1 C964.3 208.5 967.7 209.5 968.7 210.0" fill="#fff" stroke="#1c1c1c" stroke-width="2.80" stroke-linejoin="round" stroke-linecap="round" />
<path d="M979.2 183.2 C977.7 183.8 972.5 185.2 970.1 187.1 C967.6 189.0 965.6 192.2 964.5 194.6 C963.3 197.0 963.1 199.6 963.3 201.6 C963.5 203.6 965.4 205.9 965.9 206.7" fill="none" stroke="#1c1c1c" stroke-width="2.20" stroke-linejoin="round" stroke-linecap="round" />
<path d="M980.6 184.3 C979.3 185.0 975.1 186.2 972.9 188.1 C970.7 189.9 968.4 193.2 967.3 195.5 C966.2 197.9 966.1 200.2 966.3 202.1 C966.6 203.9 968.3 205.8 968.7 206.5" fill="none" stroke="#444" stroke-width="1.60" stroke-linejoin="round" stroke-linecap="round" />
<path d="M977.1 182.2 L982.1 183.9" fill="none" stroke="#1c1c1c" stroke-width="2.40" stroke-linejoin="round" stroke-linecap="round" />
<ellipse cx="980.0" cy="197.4" rx="12.9" ry="12.0" fill="#fff" stroke="#1c1c1c" stroke-width="2.80" transform="rotate(-35.0 980.0 197.4)"/>
<path d="M994.2 197.9 L998.0 198.8 Q999.9 199.3 1000.8 200.3 L1000.8 200.3 Q1001.6 201.4 1000.6 202.3 L1000.6 202.3 Q999.7 203.2 997.7 202.9 L994.7 202.4 Q992.7 202.1 992.5 200.1 L992.4 199.4 Q992.2 197.4 994.2 197.9 Z" fill="#fff" stroke="#1c1c1c" stroke-width="2.30" stroke-linejoin="round" stroke-linecap="round" />
<path d="M978.6 220.7 L998.1 214.4 L1002.7 218.4 L1002.0 229.8 L979.2 231.0 Z" fill="#fff" stroke="#1c1c1c" stroke-width="2.50" stroke-linejoin="round" stroke-linecap="round" />
<path d="M971.0 210.0 L988.5 206.3 L996.7 206.7 L998.1 214.4 L978.6 220.7 L968.7 215.8 Z" fill="#fff" stroke="#1c1c1c" stroke-width="2.60" stroke-linejoin="round" stroke-linecap="round" />
<path d="M978.9 223.3 L999.0 217.0" fill="none" stroke="#1c1c1c" stroke-width="1.80" stroke-linejoin="round" stroke-linecap="round" />
<path d="M979.2 210.0 L979.2 220.3" fill="none" stroke="#555" stroke-width="1.40" stroke-linejoin="round" stroke-linecap="round" />
<path d="M966.9 214.1 L971.2 213.5 L971.2 219.9 L973.9 220.5 L975.1 217.6 L978.0 218.2 L977.8 223.1 L970.4 224.2 L966.9 221.7 Z" fill="#fff" stroke="#1c1c1c" stroke-width="2.30" stroke-linejoin="round" stroke-linecap="round" />
<path d="M972.2 224.9 L975.2 224.5 L975.4 230.8 L972.4 231.2 Z" fill="#7a7a7a" stroke="#555" stroke-width="1.00" stroke-linejoin="round" stroke-linecap="round" />
<ellipse cx="980.0" cy="197.4" rx="12.9" ry="12.0" fill="#fff" stroke="#1c1c1c" stroke-width="2.80" transform="rotate(-35.0 980.0 197.4)"/>
<path d="M952.3 229.0 L969.8 234.2 Q969.8 234.2 969.8 234.2 L960.5 261.5 Q960.5 261.5 960.5 261.5 L948.4 254.9 Q944.0 252.5 942.0 250.5 L942.0 250.5 Q940.1 248.6 939.6 245.0 L939.6 245.0 Q939.0 241.4 941.1 237.2 L941.1 237.2 Q943.1 233.0 946.2 230.6 L947.0 230.0 Q949.4 228.2 952.3 229.0 Z" fill="#fff" stroke="#1c1c1c" stroke-width="2.80" stroke-linejoin="round" stroke-linecap="round" />
<path d="M968.7 234.5 C971.1 233.1 974.4 232.2 977.0 231.5 C979.6 230.7 981.5 230.1 984.5 230.0 C987.5 229.9 992.0 230.3 995.0 230.7 C998.0 231.2 1000.2 231.8 1002.5 232.7 C1004.7 233.6 1007.0 234.6 1008.5 236.0 C1010.0 237.3 1011.3 239.0 1011.5 240.8 C1011.7 242.6 1010.7 245.1 1009.7 246.8 C1008.7 248.4 1007.4 249.2 1005.5 250.7 C1003.5 252.1 1000.2 253.7 998.0 255.5 C995.7 257.3 993.9 259.9 992.0 261.5 C990.1 263.1 989.0 264.2 986.7 265.2 C984.5 266.3 981.1 267.5 978.5 267.8 C975.9 268.0 973.4 267.6 971.0 266.7 C968.6 265.9 966.1 264.1 964.2 262.7 C962.4 261.3 960.9 260.1 959.7 258.5 C958.6 256.9 957.6 255.4 957.5 253.2 C957.4 251.1 958.1 248.0 959.0 245.7 C959.9 243.5 961.1 241.6 962.7 239.7 C964.4 237.9 966.4 235.9 968.7 234.5 Z" fill="#fff" stroke="#1c1c1c" stroke-width="2.80" stroke-linejoin="round" stroke-linecap="round" />
<path d="M984.5 233.3 C983.0 234.0 978.0 235.5 975.8 237.5 C973.5 239.4 972.1 242.2 971.0 245.0 C969.8 247.8 968.8 251.3 968.9 254.3 C969.0 257.3 970.0 260.7 971.6 263.0 C973.2 265.2 977.3 267.0 978.5 267.8" fill="none" stroke="#1c1c1c" stroke-width="2.50" stroke-linejoin="round" stroke-linecap="round" />
<path d="M978.8 245.7 C978.2 246.7 975.9 249.6 975.2 251.7 C974.4 253.9 974.0 256.5 974.3 258.5 C974.5 260.5 976.3 262.9 976.7 263.7" fill="none" stroke="#555" stroke-width="1.60" stroke-linejoin="round" stroke-linecap="round" />
<path d="M983.3 243.2 L1019.0 258.0 L1008.5 274.7 L979.4 264.5 Z" fill="#fff" stroke="none" stroke-width="0.00" stroke-linejoin="round" stroke-linecap="round" />
<path d="M983.3 243.2 C982.7 244.1 980.8 246.6 980.0 248.7 C979.2 250.9 978.6 253.6 978.5 256.2 C978.4 258.9 979.2 263.1 979.4 264.5" fill="#fff" stroke="#1c1c1c" stroke-width="2.50" stroke-linejoin="round" stroke-linecap="round" />
<path d="M983.3 243.2 L1019.0 258.0" fill="none" stroke="#1c1c1c" stroke-width="2.70" stroke-linejoin="round" stroke-linecap="round" />
<path d="M1008.5 274.7 L979.4 264.5" fill="none" stroke="#1c1c1c" stroke-width="2.70" stroke-linejoin="round" stroke-linecap="round" />
<path d="M1016.0 258.5 C1017.9 257.4 1020.0 257.2 1022.0 257.0 C1024.0 256.7 1025.9 256.7 1028.0 257.0 C1030.1 257.2 1032.6 257.8 1034.7 258.5 C1036.9 259.2 1038.9 259.9 1040.7 261.2 C1042.6 262.4 1045.0 264.2 1046.0 266.0 C1047.0 267.8 1047.0 269.7 1046.7 272.0 C1046.5 274.2 1045.6 277.0 1044.5 279.5 C1043.4 282.0 1041.6 284.7 1040.0 287.0 C1038.4 289.2 1035.7 291.5 1034.7 293.0 C1033.7 294.4 1034.7 295.0 1034.0 295.7 C1033.2 296.4 1031.7 297.1 1030.2 297.2 C1028.7 297.2 1026.9 296.7 1025.0 296.0 C1023.1 295.3 1021.0 294.4 1019.0 293.0 C1017.0 291.6 1014.6 289.5 1013.0 287.7 C1011.4 286.0 1010.4 284.4 1009.5 282.5 C1008.7 280.6 1008.0 278.5 1007.7 276.5 C1007.5 274.5 1007.5 272.6 1008.0 270.5 C1008.5 268.4 1009.4 265.7 1010.7 263.7 C1012.1 261.7 1014.1 259.6 1016.0 258.5 Z" fill="#fff" stroke="#1c1c1c" stroke-width="2.90" stroke-linejoin="round" stroke-linecap="round" />
<path d="M1026.5 260.0 C1025.7 260.9 1022.9 263.1 1021.7 265.2 C1020.5 267.4 1019.5 270.1 1019.3 272.7 C1019.1 275.4 1019.5 278.3 1020.5 281.0 C1021.4 283.7 1023.0 286.6 1025.0 288.8 C1027.0 291.0 1031.2 293.3 1032.5 294.2" fill="none" stroke="#1c1c1c" stroke-width="2.30" stroke-linejoin="round" stroke-linecap="round" />
<path d="M1038.2 290.1 C1037.2 290.2 1034.1 291.9 1032.5 290.9 C1030.9 290.0 1029.4 286.7 1028.4 284.4 C1027.4 282.2 1026.6 279.7 1026.4 277.4 C1026.3 275.0 1026.8 272.6 1027.8 270.4 C1028.7 268.1 1031.4 265.1 1032.1 264.1" fill="#fff" stroke="#1c1c1c" stroke-width="2.40" stroke-linejoin="round" stroke-linecap="round" />
<path d="M1032.1 264.1 L1043.6 268.4" fill="none" stroke="#1c1c1c" stroke-width="2.60" stroke-linejoin="round" stroke-linecap="round" />
<path d="M1043.8 268.4 C1042.6 269.5 1038.3 272.4 1036.9 274.9 C1035.4 277.4 1034.7 280.6 1034.9 283.1 C1035.1 285.7 1037.4 288.9 1037.9 290.1" fill="#fff" stroke="#1c1c1c" stroke-width="4.20" stroke-linejoin="round" stroke-linecap="round" />
<path d="M1046.0 270.6 C1045.0 271.6 1041.1 274.5 1039.9 276.9 C1038.7 279.2 1038.3 282.1 1038.6 284.4 C1038.9 286.8 1041.3 290.0 1041.8 291.2" fill="#fff" stroke="#1c1c1c" stroke-width="3.40" stroke-linejoin="round" stroke-linecap="round" />
<path d="M1046.0 270.8 C1048.7 270.0 1053.9 271.5 1056.4 272.3 C1058.8 273.1 1059.7 274.3 1060.7 275.8 C1061.7 277.3 1062.3 279.2 1062.2 281.2 C1062.1 283.2 1061.2 285.8 1060.3 287.7 C1059.3 289.6 1057.4 291.6 1056.4 292.7 C1055.4 293.7 1055.6 293.8 1054.2 294.0 C1052.8 294.1 1049.8 294.0 1047.7 293.6 C1045.6 293.1 1043.3 292.7 1041.8 291.2 C1040.3 289.6 1039.0 286.8 1038.7 284.4 C1038.4 282.1 1038.7 279.1 1039.9 276.9 C1041.1 274.6 1043.2 271.5 1046.0 270.8 Z" fill="#fff" stroke="#1c1c1c" stroke-width="2.50" stroke-linejoin="round" stroke-linecap="round" />
<path d="M1056.4 272.5 C1055.5 273.2 1052.2 275.0 1050.9 276.9 C1049.7 278.7 1049.1 281.2 1049.0 283.4 C1048.9 285.5 1049.6 288.1 1050.5 289.9 C1051.4 291.6 1053.6 293.1 1054.2 293.8" fill="none" stroke="#333" stroke-width="1.80" stroke-linejoin="round" stroke-linecap="round" />
<path d="M1047.9 279.2 L1059.4 282.1 L1055.9 292.5 L1046.2 289.4 Z" fill="#fff" stroke="none" stroke-width="0.00" stroke-linejoin="round" stroke-linecap="round" />
<path d="M1047.9 279.2 C1047.4 280.1 1045.4 282.5 1045.1 284.2 C1044.8 285.9 1046.0 288.6 1046.2 289.4" fill="#fff" stroke="#1c1c1c" stroke-width="2.00" stroke-linejoin="round" stroke-linecap="round" />
<path d="M1047.9 279.2 L1059.4 282.1" fill="none" stroke="#1c1c1c" stroke-width="2.50" stroke-linejoin="round" stroke-linecap="round" />
<path d="M1055.9 292.5 L1046.2 289.4" fill="none" stroke="#1c1c1c" stroke-width="2.50" stroke-linejoin="round" stroke-linecap="round" />
<path d="M1057.7 281.0 L1066.3 282.3 L1063.3 296.8 L1054.9 292.2 Z" fill="#fff" stroke="none" stroke-width="0.00" stroke-linejoin="round" stroke-linecap="round" />
<path d="M1057.7 281.0 C1057.2 281.9 1055.5 284.7 1055.1 286.6 C1054.6 288.5 1054.9 291.3 1054.9 292.2" fill="#fff" stroke="#1c1c1c" stroke-width="2.20" stroke-linejoin="round" stroke-linecap="round" />
<path d="M1057.7 281.0 L1066.3 282.3" fill="none" stroke="#1c1c1c" stroke-width="2.50" stroke-linejoin="round" stroke-linecap="round" />
<path d="M1063.3 296.8 L1054.9 292.2" fill="none" stroke="#1c1c1c" stroke-width="2.50" stroke-linejoin="round" stroke-linecap="round" />
<ellipse cx="1065.3" cy="289.4" rx="5.6" ry="7.2" fill="#fff" stroke="#1c1c1c" stroke-width="3.20" transform="rotate(-18.0 1065.3 289.4)"/>
<ellipse cx="1065.9" cy="289.6" rx="2.6" ry="3.6" fill="#ddd" stroke="#1c1c1c" stroke-width="1.80" transform="rotate(-18.0 1065.9 289.6)"/>
<path d="M1064.7 289.4 l2.4 0.4" fill="none" stroke="#1c1c1c" stroke-width="1.40" stroke-linejoin="round" stroke-linecap="round" />
<path d="M365.0 349.0 L374.5 347.7 L360.0 331.2 L380.0 328.3 L427.4 321.0" fill="none" stroke="#222222" stroke-width="1.90" stroke-linejoin="round" stroke-linecap="round" />
<line x1="119.3" y1="392.0" x2="191.5" y2="380.2" stroke="#222222" stroke-width="1.90" stroke-linecap="butt"/>
<line x1="162.0" y1="420.0" x2="232.3" y2="406.3" stroke="#222222" stroke-width="1.90" stroke-linecap="butt"/>
<line x1="410.0" y1="374.4" x2="429.0" y2="370.6" stroke="#222222" stroke-width="1.90" stroke-linecap="butt"/>
<line x1="418.7" y1="355.4" x2="480.5" y2="345.9" stroke="#222222" stroke-width="1.90" stroke-linecap="butt"/>
<line x1="399.0" y1="346.4" x2="418.7" y2="344.0" stroke="#222222" stroke-width="1.90" stroke-linecap="butt"/>
<line x1="456.0" y1="367.7" x2="469.4" y2="364.9" stroke="#222222" stroke-width="1.90" stroke-linecap="butt"/>
</g>
</svg>
</body></html>
